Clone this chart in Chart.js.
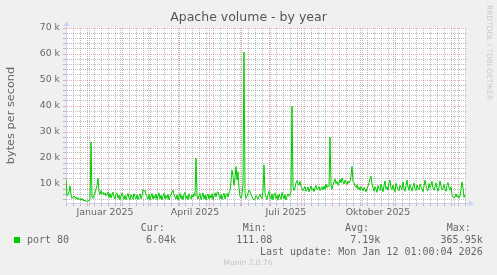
<!DOCTYPE html>
<html>
<head>
<meta charset="utf-8">
<script src="https://cdn.jsdelivr.net/npm/chart.js@4"></script>
<style>
  html, body { margin: 0; padding: 0; background: #F0F0F0; }
  #wrap { width: 497px; height: 275px; position: relative; }
</style>
</head>
<body>
<div id="wrap"><canvas id="c" width="497" height="275"></canvas></div>
<script>
// ---------------- data ----------------
const chartTitle = 'Apache volume - by year';
const yAxisTitle = 'bytes per second';
const seriesName = 'port 80';
const startTime = Date.UTC(2024, 11, 8, 1, 0, 4);   // left edge of the graph
const spanDays = 400;

// daily averages, thousands of bytes per second
const portValues = [
  12, 5.5, 6, 7, 9.3, 6, 4.5, 5, 5.5, 4.5,
  5, 4.2, 4.8, 4, 4.4, 3.8, 4.5, 3.6, 3.9, 3.4,
  3.7, 3.2, 3.6, 3.5, 4.2, 26.2, 5, 4.5, 5.5, 6.5,
  8, 9.5, 12.2, 7, 6, 7.5, 6.2, 6.8, 5.8, 6.5,
  5.5, 6.2, 7.0, 4.8, 6.4, 4.6, 5.8, 6.9, 5.0, 4.2,
  6.0, 6.6, 4.5, 5.7, 4.0, 5.4, 6.5, 5.2, 4.1, 5.6,
  4.0, 5.3, 6.4, 4.6, 3.9, 5.9, 5.0, 4.1, 6.3, 5.1,
  4.3, 5.8, 4.0, 5.2, 6.2, 4.3, 5.4, 7.8, 7.2, 7.6,
  6.0, 5.0, 4.2, 6.0, 3.9, 5.2, 6.4, 4.2, 5.6, 4.5,
  6.2, 4.0, 5.4, 6.6, 4.3, 5.7, 3.9, 5.3, 6.4, 4.2,
  5.6, 4.5, 6.1, 3.9, 5.2, 5.9, 6.8, 7.6, 6.0, 5.0,
  4.2, 5.9, 3.8, 5.3, 6.4, 4.3, 5.6, 4.0, 6.0, 6.8,
  4.4, 5.5, 4.0, 6.2, 5.0, 4.2, 5.8, 4.9, 6.3, 5.5,
  19.9, 5.5, 4.2, 5.6, 6.4, 4.0, 5.2, 6.6, 4.3, 5.8,
  3.9, 5.4, 6.2, 4.2, 5.7, 4.6, 6.3, 4.0, 5.5, 6.6,
  5.0, 6.8, 7.0, 5.5, 4.4, 6.0, 4.0, 5.5, 6.5, 4.3,
  5.8, 6.4, 5.0, 6.5, 7.5, 11, 15.4, 13, 9.5, 12.5,
  16.7, 11.5, 14.8, 8.5, 5.2, 4.6, 6, 10, 60.8, 6.5,
  4.4, 5.2, 6.5, 7.7, 7.2, 6.0, 5.1, 4.3, 3.8, 4.5,
  5.6, 4.8, 4.2, 5.3, 6.0, 5.0, 4.4, 7.5, 17.3, 6.5,
  5.0, 4.0, 6.0, 7.2, 5.0, 4.2, 6.3, 3.9, 5.8, 6.6,
  4.4, 5.6, 3.8, 6.2, 5.0, 4.1, 6.8, 5.2, 4.3, 6.0,
  3.9, 5.2, 6.2, 5.3, 6.0, 7, 40, 9, 7.5, 8.5,
  10.5, 11.3, 10, 9.5, 11, 9, 8.5, 7.5, 8.2, 9.0,
  7.2, 7.8, 8.8, 7.0, 8.0, 9.3, 7.6, 8.3, 7.1, 8.6,
  9.5, 7.8, 8.1, 9.0, 7.5, 8.4, 8.9, 7.7, 9.2, 8.0,
  10.0, 8.6, 9.4, 9, 28, 9.5, 8, 9.6, 10.8, 12.0,
  10.2, 11.0, 9.5, 10.5, 11.8, 10.4, 12.3, 11.0, 10.0, 11.5,
  10.6, 9.8, 11.2, 10.3, 11.0, 13, 16.8, 11, 10.5, 9.2,
  8.6, 9.8, 8.0, 8.8, 7.6, 9.0, 8.3, 7.4, 8.7, 7.9,
  7.0, 8.2, 9.2, 10.5, 12, 13, 10, 8.5, 7.2, 9.0,
  8.0, 6.8, 9.5, 8.2, 7.5, 10.0, 8.8, 7.0, 9.3, 11.2,
  8.0, 9.0, 7.6, 10.5, 11.5, 8.4, 7.8, 9.6, 8.2, 7.0,
  10.2, 9.0, 8.0, 7.4, 9.5, 8.6, 7.9, 10.8, 8.3, 7.2,
  9.4, 11.5, 8.8, 7.6, 9.8, 8.5, 7.3, 9.0, 10.4, 8.0,
  7.5, 9.6, 8.4, 7.8, 10.0, 9.0, 8.2, 7.0, 9.2, 11.5,
  9.4, 8.0, 7.4, 10.2, 8.6, 9.5, 11.0, 8.2, 7.6, 9.0,
  10.4, 8.4, 7.2, 8.8, 11.2, 9.2, 7.8, 8.5, 9.8, 8.0,
  7.2, 9.6, 10.6, 8.4, 7.6, 8.9, 6.0, 5.2, 4.6, 5.0,
  6.2, 5.0, 5.6, 4.6, 5.4, 7.8, 10.8, 8.5, 4.8, 6.0
];

const yMin = 2.7, yMax = 70;
const yTickValues = [4, 6, 8, 10, 12, 14, 16, 18, 20, 22, 24, 26, 28, 30, 32, 34, 36, 38, 40,
                     42, 44, 46, 48, 50, 52, 54, 56, 58, 60, 62, 64, 66, 68, 70];
const quarterLabels = ['Januar 2025', 'April 2025', 'Juli 2025', 'Oktober 2025'];
const quarterMonths = [[2025, 0], [2025, 3], [2025, 6], [2025, 9]];
const legendHeaders = ['Cur:', 'Min:', 'Avg:', 'Max:'];
const legendValues = ['6.04k', '111.08', '7.19k', '365.95k'];
const lastUpdate = 'Last update: Mon Jan 12 01:00:04 2026';
const footerText = 'Munin 2.0.76';
const watermark = 'RRDTOOL / TOBI OETIKER';

// ---------------- styles ----------------
const lineColor = '#00CC00';
const majorGrid = 'rgba(222,79,79,0.45)';
const minorGrid = 'rgba(143,143,143,0.6)';
const axisColor = '#CBD3F5';
const fontColor = '#666666';
const sans = '"DejaVu Sans", sans-serif';
const mono = '"DejaVu Sans Mono", monospace';

// ---------------- x ticks from calendar ----------------
const dayOf = (y, m, d) => (Date.UTC(y, m, d) - startTime) / 864e5;
const xTicks = [];
const majors = [];
for (let y = 2024, m = 11; y < 2026 || m <= 1; ) {
  const d = dayOf(y, m, 1);
  if (d >= 0 && d <= spanDays) { majors.push(d); xTicks.push({ value: d, kind: 'major' }); }
  m++; if (m > 11) { m = 0; y++; }
}
for (let d = dayOf(2024, 11, 9); d <= spanDays; d += 7) {
  if (!majors.some(v => Math.abs(v - d) < 0.6)) xTicks.push({ value: d, kind: 'minor' });
}
quarterMonths.forEach((ym, k) => {
  xTicks.push({ value: dayOf(ym[0], ym[1], 1) + 15, kind: 'label', label: quarterLabels[k] });
});
xTicks.sort((a, b) => a.value - b.value);

const kindColor = k => k === 'major' ? majorGrid : (k === 'minor' ? minorGrid : 'rgba(0,0,0,0)');

const muninPlugin = {
  id: 'munin',
  beforeDraw(chart) {
    const { ctx, chartArea: a } = chart;
    ctx.save();
    ctx.fillStyle = '#F0F0F0';
    ctx.fillRect(0, 0, chart.width, chart.height);
    ctx.fillStyle = '#FFFFFF';
    ctx.fillRect(a.left, a.top, a.right - a.left, a.bottom - a.top);
    ctx.restore();
  },
  afterDraw(chart) {
    const { ctx, chartArea: a } = chart;
    ctx.save();
    // axis arrows
    const ax = Math.round(a.left) + 0.5, ay = Math.round(a.bottom) + 0.5;
    ctx.strokeStyle = axisColor; ctx.fillStyle = axisColor; ctx.lineWidth = 1;
    ctx.beginPath(); ctx.moveTo(ax, a.top); ctx.lineTo(ax, a.top - 3); ctx.stroke();
    ctx.beginPath(); ctx.moveTo(ax - 3, a.top - 2); ctx.lineTo(ax + 3, a.top - 2); ctx.lineTo(ax, a.top - 7); ctx.closePath(); ctx.fill();
    ctx.beginPath(); ctx.moveTo(a.right, ay); ctx.lineTo(a.right + 3, ay); ctx.stroke();
    ctx.beginPath(); ctx.moveTo(a.right + 3, ay - 3); ctx.lineTo(a.right + 3, ay + 3); ctx.lineTo(a.right + 8, ay); ctx.closePath(); ctx.fill();

    // legend
    ctx.fillStyle = lineColor;
    ctx.fillRect(14, 237, 6, 6);
    ctx.fillStyle = fontColor;
    ctx.font = '10px ' + mono;
    ctx.textBaseline = 'middle';
    ctx.textAlign = 'left';
    ctx.fillText(seriesName, 27, 240);
    const hx = [140.7, 242.7, 345, 446.7];
    const rightEdges = [176, 272.3, 380.3, 482.7];
    legendHeaders.forEach((h, i) => ctx.fillText(h, hx[i], 228));
    ctx.textAlign = 'right';
    legendValues.forEach((v, i) => ctx.fillText(v, rightEdges[i], 240));
    ctx.fillText(lastUpdate, 482.7, 252);
    // footer
    ctx.textAlign = 'center';
    ctx.fillStyle = '#C4C4C4';
    ctx.font = '7.5px ' + sans;
    ctx.fillText(footerText, 248, 263.5);
    // watermark
    ctx.translate(488.5, 5);
    ctx.rotate(Math.PI / 2);
    ctx.textAlign = 'left';
    ctx.fillStyle = '#CACACA';
    ctx.font = '7.4px ' + sans;
    ctx.fillText(watermark, 0, 0);
    ctx.restore();
  }
};

new Chart(document.getElementById('c'), {
  type: 'line',
  data: {
    datasets: [{
      label: seriesName,
      data: portValues.map((v, i) => ({ x: i, y: v })),
      borderColor: lineColor,
      borderWidth: 1,
      pointRadius: 0,
      tension: 0,
      fill: false
    }]
  },
  options: {
    responsive: false,
    animation: false,
    devicePixelRatio: 1,
    layout: { padding: { left: 0, right: 0, top: 0, bottom: 0 } },
    plugins: {
      legend: { display: false },
      tooltip: { enabled: false },
      title: {
        display: true,
        text: chartTitle,
        color: '#555555',
        font: { family: sans, size: 12.5, weight: 'normal' },
        padding: { top: 10.5, bottom: 2.5 }
      }
    },
    scales: {
      x: {
        type: 'linear',
        min: 0,
        max: spanDays,
        afterBuildTicks: s => { s.ticks = xTicks.map(t => Object.assign({}, t)); },
        afterFit: s => { s.height = 72; },
        ticks: {
          autoSkip: false, maxRotation: 0, minRotation: 0, padding: 1,
          color: fontColor, font: { family: sans, size: 9.4 },
          callback: (v, i, ticks) => ticks[i].kind === 'label' ? ticks[i].label : ''
        },
        grid: {
          color: c => kindColor(c.tick && c.tick.kind),
          tickColor: c => kindColor(c.tick && c.tick.kind),
          lineWidth: 1, tickLength: 3, tickWidth: 1, drawTicks: true
        },
        border: { display: true, color: axisColor, width: 1, dash: [1, 1] }
      },
      y: {
        type: 'linear',
        min: yMin,
        max: yMax,
        afterBuildTicks: s => { s.ticks = yTickValues.map(v => ({ value: v, kind: v % 10 === 0 ? 'major' : 'minor' })); },
        afterFit: s => { s.width = 66; },
        title: {
          display: true, text: yAxisTitle, color: fontColor,
          font: { family: sans, size: 11.3 }, padding: { top: 4, bottom: 0 }
        },
        ticks: {
          autoSkip: false, padding: 3, color: fontColor, font: { family: sans, size: 9.3 },
          callback: v => (v % 10 === 0 ? v + ' k' : '')
        },
        grid: {
          color: c => kindColor(c.tick && c.tick.kind),
          tickColor: c => kindColor(c.tick && c.tick.kind),
          lineWidth: 1, tickLength: 3, tickWidth: 1, drawTicks: true
        },
        border: { display: true, color: axisColor, width: 1, dash: [1, 1] }
      },
      yr: {
        type: 'linear', position: 'right', min: 0, max: 1, display: true,
        grid: { display: false, drawTicks: false },
        border: { display: false },
        ticks: { display: false },
        afterFit: s => { s.width = 31; }
      }
    }
  },
  plugins: [muninPlugin]
});
</script>
</body>
</html>
